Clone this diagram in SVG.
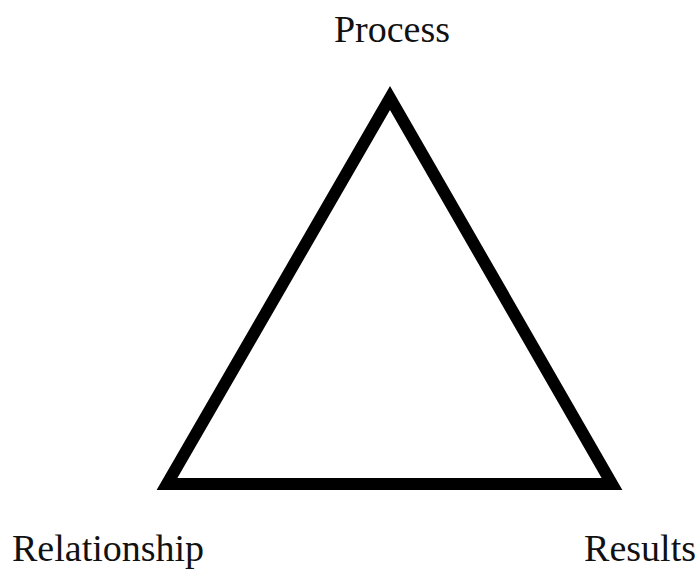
<svg xmlns="http://www.w3.org/2000/svg" width="699" height="570" viewBox="0 0 699 570">
<style>
.lbl{font-family:"Liberation Serif","Times New Roman",serif;font-size:38px;fill:#111}
.tri{fill:none;stroke:#000;stroke-width:12;stroke-linejoin:miter}
</style>
<rect width="699" height="570" fill="#fff"/>
<g id="connectors">
<polygon class="tri" points="390,98 167,484 612,484"/>
</g>
<g id="node-process"><text class="lbl" x="392" y="42" text-anchor="middle">Process</text></g>
<g id="node-relationship"><text class="lbl" x="12" y="561">Relationship</text></g>
<g id="node-results"><text class="lbl" x="696" y="561" text-anchor="end">Results</text></g>
</svg>
